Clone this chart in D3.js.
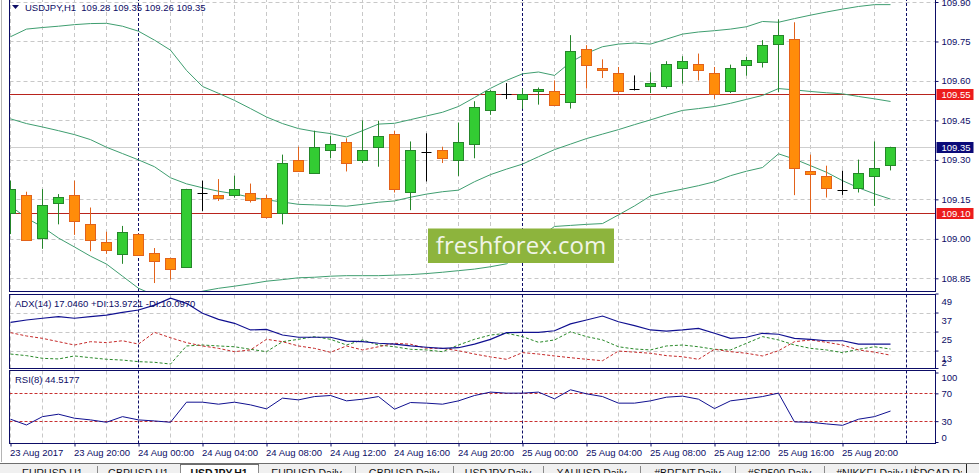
<!DOCTYPE html>
<html lang="en">
<head>
<meta charset="UTF-8">
<title>USDJPY,H1</title>
<script src="https://d3js.org/d3.v7.min.js"></script>
<style>
  body { margin: 0; background: #fff; }
  svg { display: block; font-family: "Liberation Sans", Arial, sans-serif; }
</style>
</head>
<body>
<script>
// --- data (USDJPY H1, from 23 Aug 2017 16:00) ---
var symbol = 'USDJPY,H1';
var startTime = new Date(Date.UTC(2017, 7, 23, 16));

var opens = [109.097,109.167,109.004,109.135,109.167,109.055,108.987,108.943,109.017,108.945,
  108.926,108.894,109.176,109.167,109.166,109.176,109.157,109.097,109.301,109.250,
  109.338,109.368,109.300,109.349,109.399,109.178,109.331,109.338,109.300,109.361,
  109.490,109.551,109.532,109.563,109.563,109.521,109.723,109.651,109.632,109.571,
  109.582,109.582,109.651,109.663,109.632,109.563,109.662,109.672,109.742,109.761,
  109.258,109.239,109.187,109.195,109.239,109.28];
var highs = [109.221,109.179,109.189,109.170,109.221,109.119,109.027,109.049,109.020,108.965,
  108.928,109.190,109.221,109.227,109.240,109.210,109.167,109.320,109.350,109.411,
  109.392,109.382,109.450,109.449,109.411,109.370,109.401,109.350,109.442,109.523,
  109.565,109.592,109.571,109.575,109.602,109.774,109.736,109.682,109.653,109.621,
  109.633,109.675,109.694,109.704,109.653,109.662,109.691,109.755,109.834,109.823,
  109.320,109.278,109.259,109.301,109.370,109.35];
var lows = [109.018,108.994,108.962,109.055,109.015,108.953,108.943,108.905,108.935,108.832,
  108.845,108.892,109.106,109.144,109.157,109.138,109.077,109.055,109.258,109.250,
  109.306,109.256,109.288,109.274,109.176,109.109,109.218,109.288,109.239,109.306,
  109.471,109.531,109.494,109.510,109.510,109.495,109.571,109.611,109.551,109.564,
  109.554,109.571,109.590,109.602,109.532,109.554,109.620,109.651,109.558,109.166,
  109.100,109.157,109.167,109.176,109.125,109.26];
var closes = [109.189,108.994,109.129,109.160,109.067,108.994,108.956,109.025,108.937,108.914,
  108.885,109.189,109.176,109.157,109.189,109.147,109.084,109.287,109.258,109.349,
  109.361,109.287,109.338,109.391,109.189,109.338,109.331,109.306,109.368,109.502,
  109.563,109.551,109.551,109.571,109.510,109.712,109.662,109.643,109.563,109.571,
  109.591,109.663,109.674,109.643,109.551,109.651,109.681,109.735,109.773,109.269,
  109.248,109.195,109.187,109.250,109.270,109.35];

var bbUpper = [109.768,109.797,109.803,109.808,109.814,109.818,109.819,109.808,109.789,109.755,
  109.717,109.640,109.579,109.553,109.526,109.495,109.463,109.438,109.419,109.408,
  109.400,109.387,109.411,109.436,109.439,109.453,109.467,109.481,109.503,109.537,
  109.572,109.602,109.627,109.634,109.621,109.671,109.705,109.730,109.740,109.744,
  109.740,109.759,109.778,109.786,109.791,109.797,109.806,109.826,109.823,109.837,
  109.850,109.862,109.873,109.883,109.890,109.890];
var bbMiddle = [109.456,109.438,109.425,109.411,109.396,109.377,109.348,109.324,109.300,109.274,
  109.232,109.209,109.194,109.181,109.171,109.158,109.148,109.140,109.131,109.129,
  109.127,109.124,109.131,109.139,109.144,109.158,109.170,109.179,109.185,109.217,
  109.244,109.265,109.284,109.312,109.339,109.360,109.381,109.398,109.415,109.434,
  109.452,109.471,109.488,109.495,109.503,109.515,109.530,109.545,109.571,109.566,
  109.560,109.555,109.551,109.541,109.532,109.522];
var bbLower = [109.125,109.079,109.045,109.003,108.969,108.934,108.904,108.858,108.812,108.786,
  108.770,108.786,108.801,108.812,108.820,108.829,108.839,108.845,108.852,108.854,
  108.858,108.860,108.860,108.860,108.862,108.864,108.868,108.873,108.879,108.885,
  108.894,108.905,108.953,109.003,109.047,109.051,109.055,109.058,109.091,109.125,
  109.163,109.177,109.189,109.202,109.217,109.240,109.257,109.271,109.323,109.303,
  109.278,109.253,109.221,109.194,109.171,109.151];

var adxMain = [30.8,32.3,33.4,34.4,33.4,34.4,35.4,37.1,38.6,41.7,
  46.0,42.8,36.5,32.7,30.2,26.0,26.4,22.8,21.4,21.4,
  21.4,19.0,18.6,17.6,17.0,15.9,15.1,14.4,14.8,17.1,
  20.1,24.3,24.5,24.5,25.5,29.8,32.3,34.8,31.2,28.7,
  26.0,25.3,26.0,27.0,23.9,20.7,21.4,23.9,23.3,20.7,
  20.1,19.2,19.2,17.1,17.1,17.0460];
var plusDI = [10.8,9.8,8.1,7.7,9.6,8.5,7.5,7.0,6.0,5.6,
  4.5,15.9,16.5,15.9,15.4,13.8,12.3,18.6,20.1,21.8,
  20.1,16.5,19.7,16.5,15.4,13.8,13.4,12.3,16.5,20.1,
  22.8,23.9,21.8,18.2,19.7,24.9,21.8,19.7,15.4,14.0,
  13.4,15.9,16.5,15.4,13.8,13.4,17.6,21.8,19.7,16.5,
  14.4,13.4,11.7,13.8,15.4,13.9721];
var minusDI = [24.3,22.2,20.7,18.6,16.5,18.6,18.0,19.2,17.1,24.5,
  21.1,18.0,15.9,14.4,12.3,13.4,20.1,18.6,15.9,14.4,
  11.9,15.9,13.4,15.4,17.6,17.0,14.4,14.4,12.9,10.8,
  9.0,7.5,11.7,10.8,9.6,8.5,7.5,6.6,12.7,12.0,
  11.3,9.8,9.1,7.5,13.8,12.3,11.3,9.6,12.9,18.6,
  19.7,18.2,16.5,13.4,12.0,10.0970];
var rsi = [32.8,24.5,36.5,40.0,34.2,31.8,28.4,36.5,31.8,30.3,
  28.4,57.3,57.3,54.4,57.3,53.4,47.7,63.1,60.6,65.4,
  66.9,59.2,61.6,65.4,47.2,56.8,55.9,54.4,59.2,66.9,
  71.8,70.3,70.3,71.8,62.1,75.1,69.3,65.4,55.9,55.9,
  59.2,64.5,66.0,61.6,48.1,59.2,62.1,65.4,70.3,28.9,
  28.4,26.0,24.0,32.8,36.5,44.5177];

var priceTicks = [108.85, 109.00, 109.15, 109.30, 109.45, 109.60, 109.75, 109.90];
var levelLines = [109.55, 109.10];
var bidPrice = 109.35;
var adxTicks = [49, 37, 25, 13, 2];
var rsiTicks = [100, 70, 30, 0];
var rsiLevels = [70, 30];
var timeLabels = ['23 Aug 2017', '23 Aug 20:00', '24 Aug 00:00', '24 Aug 04:00', '24 Aug 08:00',
  '24 Aug 12:00', '24 Aug 16:00', '24 Aug 20:00', '25 Aug 00:00', '25 Aug 04:00',
  '25 Aug 08:00', '25 Aug 12:00', '25 Aug 16:00', '25 Aug 20:00'];
var tabNames = ['EURUSD,H1', 'GBPUSD,H1', 'USDJPY,H1', 'EURUSD,Daily', 'GBPUSD,Daily', 'USDJPY,Daily',
  'XAUUSD,Daily', '#BRENT,Daily', '#SP500,Daily', '#NIKKEI,Daily', 'USDCAD,Daily'];
var activeTab = 2;

// --- layout ---
var W = 979, H = 473;
var left = 9.5, right = 935.5;
var mainBox = {top: -2, bottom: 291.5};
var adxBox = {top: 294.5, bottom: 368.5};
var rsiBox = {top: 370.5, bottom: 443.5};
var navy = '#0d0d66';
var tabEdges = [8, 96.5, 180, 258, 355, 453, 543, 640, 735, 824, 915, 966];

var svg = d3.select('body').append('svg')
  .attr('width', W)
  .attr('height', H);

var times = opens.map(function(d, i) { return d3.utcHour.offset(startTime, i); });

var x = d3.scaleUtc()
  .domain([startTime, d3.utcHour.offset(startTime, 56)])
  .range([10.5, 906.5]);
var y = d3.scaleLinear().domain([108.85, 109.90]).range([278.3, 2]);
var yAdx = d3.scaleLinear().domain([2, 49]).range([368, 293.5]);
var yRsi = d3.scaleLinear().domain([0, 100]).range([442, 372.5]);

// left window edge
svg.append('line').attr('x1', 1.5).attr('x2', 1.5).attr('y1', 0).attr('y2', 462)
  .attr('stroke', '#b4b4b4');

// clip paths for the three panels and the tab bar
var defs = svg.append('defs');
[['clipMain', mainBox], ['clipAdx', adxBox], ['clipRsi', rsiBox]].forEach(function(c) {
  defs.append('clipPath').attr('id', c[0]).append('rect')
    .attr('x', left + 0.5).attr('y', c[1].top + 0.5)
    .attr('width', right - left - 1).attr('height', c[1].bottom - c[1].top - 1);
});
defs.append('clipPath').attr('id', 'clipTabs').append('rect')
  .attr('x', 0).attr('y', 460).attr('width', 962).attr('height', 20);

var gridTimes = x.ticks(d3.utcHour.every(2)).filter(function(t) { return t.getUTCHours() !== 0; });
var dayTimes = d3.utcDays(d3.utcHour.offset(startTime, 1), d3.utcHour.offset(startTime, 57));

function panelGrid(g, box, hValues, yScale) {
  g.selectAll('.vgrid')
    .data(gridTimes)
    .enter().append('line')
      .attr('x1', function(d) { return Math.round(x(d)) - 0.5; })
      .attr('x2', function(d) { return Math.round(x(d)) - 0.5; })
      .attr('y1', box.top).attr('y2', box.bottom)
      .attr('stroke', '#c8c8c8')
      .attr('stroke-dasharray', '4,3');
  g.selectAll('.hgrid')
    .data(hValues)
    .enter().append('line')
      .attr('x1', left).attr('x2', right)
      .attr('y1', function(d) { return Math.round(yScale(d)) + 0.5; })
      .attr('y2', function(d) { return Math.round(yScale(d)) + 0.5; })
      .attr('stroke', '#c8c8c8')
      .attr('stroke-dasharray', '4,3');
}

function separators(g, box) {
  g.selectAll('.sep')
    .data(dayTimes)
    .enter().append('line')
      .attr('x1', function(d) { return Math.round(x(d)) - 0.5; })
      .attr('x2', function(d) { return Math.round(x(d)) - 0.5; })
      .attr('y1', box.top).attr('y2', box.bottom)
      .attr('stroke', navy)
      .attr('stroke-dasharray', '3,2');
}

// ================= main panel =================
var gMain = svg.append('g').attr('clip-path', 'url(#clipMain)');
panelGrid(gMain, mainBox, priceTicks, y);

gMain.append('line')
  .attr('x1', left).attr('x2', right)
  .attr('y1', Math.round(y(bidPrice)) + 0.5).attr('y2', Math.round(y(bidPrice)) + 0.5)
  .attr('stroke', '#cfcfcf');

separators(gMain, mainBox);

gMain.selectAll('.level')
  .data(levelLines)
  .enter().append('line')
    .attr('x1', left).attr('x2', right)
    .attr('y1', function(d) { return Math.round(y(d)) + 0.5; })
    .attr('y2', function(d) { return Math.round(y(d)) + 0.5; })
    .attr('stroke', '#b8231d');

// Bollinger bands
[bbUpper, bbMiddle, bbLower].forEach(function(band) {
  gMain.append('path')
    .datum(band)
    .attr('fill', 'none')
    .attr('stroke', '#3f9e70')
    .attr('d', d3.line()
      .x(function(d, i) { return x(times[i]); })
      .y(function(d) { return y(d); }));
});

// logo
var logo = svg.append('g');
logo.append('rect')
  .attr('x', 428).attr('y', 228.5).attr('width', 186).attr('height', 34.5)
  .attr('fill', '#8db43d');
logo.append('text')
  .attr('x', 521).attr('y', 253.5)
  .attr('text-anchor', 'middle')
  .style('font-family', '"Open Sans", "Noto Sans", sans-serif')
  .style('font-size', '24px')
  .attr('fill', '#f1f5e8')
  .text('freshforex.com');

// candles
var candles = svg.append('g')
  .attr('clip-path', 'url(#clipMain)')
  .selectAll('g')
  .data(opens.map(function(o, i) {
    return {t: times[i], o: o, h: highs[i], l: lows[i], c: closes[i]};
  }))
  .enter().append('g');

candles.each(function(d) {
  var g = d3.select(this);
  var cx = x(d.t);
  if (d.o === d.c) {
    g.append('line').attr('x1', cx).attr('x2', cx)
      .attr('y1', y(d.h)).attr('y2', y(d.l)).attr('stroke', '#000');
    g.append('line').attr('x1', cx - 5).attr('x2', cx + 5)
      .attr('y1', Math.round(y(d.c)) + 0.5).attr('y2', Math.round(y(d.c)) + 0.5)
      .attr('stroke', '#000');
    return;
  }
  var up = d.c > d.o;
  var edge = up ? '#25862a' : '#e2621a';
  g.append('line').attr('x1', cx).attr('x2', cx)
    .attr('y1', y(d.h)).attr('y2', y(d.l)).attr('stroke', edge);
  var top = Math.round(y(Math.max(d.o, d.c))) + 0.5;
  var bot = Math.round(y(Math.min(d.o, d.c))) + 0.5;
  g.append('rect')
    .attr('x', cx - 5).attr('width', 10)
    .attr('y', top).attr('height', Math.max(1, bot - top))
    .attr('fill', up ? '#33cc33' : '#ff8c0a')
    .attr('stroke', edge);
});

// header
svg.append('path').attr('d', 'M12,5 L19,5 L15.5,9 Z').attr('fill', navy);
svg.append('text')
  .attr('x', 25).attr('y', 11)
  .style('font-size', '9.5px')
  .style('white-space', 'pre')
  .attr('fill', navy)
  .text(symbol + '  ' + [opens[55], highs[55], lows[55], closes[55]].map(function(v) {
    return v.toFixed(2);
  }).join(' '));

// ================= ADX panel =================
var gAdx = svg.append('g').attr('clip-path', 'url(#clipAdx)');
panelGrid(gAdx, adxBox, [37, 25, 13], yAdx);
separators(gAdx, adxBox);

var adxLine = d3.line()
  .x(function(d, i) { return x(times[i]); })
  .y(function(d) { return yAdx(d); });
gAdx.append('path').datum(plusDI).attr('fill', 'none')
  .attr('stroke', '#2a8a2a').attr('stroke-dasharray', '3,2').attr('d', adxLine);
gAdx.append('path').datum(minusDI).attr('fill', 'none')
  .attr('stroke', '#c62a2a').attr('stroke-dasharray', '3,2').attr('d', adxLine);
gAdx.append('path').datum(adxMain).attr('fill', 'none')
  .attr('stroke', '#101090').attr('stroke-width', 1.2).attr('d', adxLine);

svg.append('text')
  .attr('x', 15).attr('y', 307)
  .style('font-size', '9.5px')
  .attr('fill', navy)
  .text('ADX(14) ' + adxMain[55].toFixed(4) + ' +DI:' + plusDI[55].toFixed(4) +
        ' -DI:' + minusDI[55].toFixed(4));

// ================= RSI panel =================
var gRsi = svg.append('g').attr('clip-path', 'url(#clipRsi)');
panelGrid(gRsi, rsiBox, [], yRsi);
separators(gRsi, rsiBox);

gRsi.selectAll('.rlevel')
  .data(rsiLevels)
  .enter().append('line')
    .attr('x1', left).attr('x2', right)
    .attr('y1', function(d) { return Math.round(yRsi(d)) + 0.5; })
    .attr('y2', function(d) { return Math.round(yRsi(d)) + 0.5; })
    .attr('stroke', '#c83030')
    .attr('stroke-dasharray', '3,2');

gRsi.append('path').datum(rsi).attr('fill', 'none')
  .attr('stroke', '#101090')
  .attr('d', d3.line()
    .x(function(d, i) { return x(times[i]); })
    .y(function(d) { return yRsi(d); }));

svg.append('text')
  .attr('x', 15).attr('y', 382.5)
  .style('font-size', '9.5px')
  .attr('fill', navy)
  .text('RSI(8) ' + rsi[55].toFixed(4));

// ================= frames =================
[mainBox, adxBox, rsiBox].forEach(function(b) {
  svg.append('rect')
    .attr('x', left).attr('y', b.top)
    .attr('width', right - left).attr('height', b.bottom - b.top)
    .attr('fill', 'none').attr('stroke', navy);
});

// ================= axes =================
function styleAxis(g) {
  g.select('.domain').remove();
  g.selectAll('line').attr('stroke', navy);
  g.selectAll('text').attr('fill', navy).style('font-size', '9.5px');
}

svg.append('g')
  .attr('transform', 'translate(' + right + ',0)')
  .call(d3.axisRight(y).tickValues(priceTicks).tickSize(3).tickPadding(3)
    .tickFormat(d3.format('.2f')))
  .call(styleAxis);

var adxAxis = svg.append('g')
  .attr('transform', 'translate(' + right + ',0)')
  .call(d3.axisRight(yAdx).tickValues(adxTicks).tickSize(3).tickPadding(3))
  .call(styleAxis);
adxAxis.selectAll('text').attr('dy', function(d) { return d === 2 ? '-0.3em' : '1.2em'; });

var rsiAxis = svg.append('g')
  .attr('transform', 'translate(' + right + ',0)')
  .call(d3.axisRight(yRsi).tickValues(rsiTicks).tickSize(3).tickPadding(3))
  .call(styleAxis);
rsiAxis.selectAll('text').attr('dy', function(d) {
  return d === 100 ? '0.85em' : (d === 0 ? '-0.2em' : '0.32em');
});

// price tags on the axis
var tags = levelLines.map(function(v) { return {v: v, bg: '#ec1c1c'}; })
  .concat([{v: bidPrice, bg: '#0a0a78'}]);
var tag = svg.selectAll('.tag').data(tags).enter().append('g');
tag.append('rect')
  .attr('x', right + 1).attr('width', 37)
  .attr('y', function(d) { return Math.round(y(d.v)) - 5; })
  .attr('height', 11)
  .attr('fill', function(d) { return d.bg; });
tag.append('text')
  .attr('x', right + 6).attr('y', function(d) { return Math.round(y(d.v)) + 0.5; })
  .attr('dy', '0.34em')
  .style('font-size', '9.5px')
  .attr('fill', '#fff')
  .text(function(d) { return d.v.toFixed(2); });

// time axis
var labelTimes = d3.utcHour.every(4).range(startTime, d3.utcHour.offset(startTime, 53));
var timeAxis = svg.append('g')
  .attr('transform', 'translate(0,' + rsiBox.bottom + ')')
  .call(d3.axisBottom(x).tickValues(labelTimes).tickSize(3).tickPadding(3)
    .tickFormat(function(d, i) { return timeLabels[i]; }))
  .call(styleAxis);
timeAxis.selectAll('text').attr('text-anchor', 'start').attr('dx', -1);

// ================= tab bar =================
var tabBar = svg.append('g');
tabBar.append('rect').attr('x', 0).attr('y', 463).attr('width', W).attr('height', 10)
  .attr('fill', '#f0f0f0');
tabBar.append('line').attr('x1', 0).attr('x2', W).attr('y1', 463.5).attr('y2', 463.5)
  .attr('stroke', '#6e6e6e');
tabBar.append('rect')
  .attr('x', tabEdges[activeTab] + 0.5).attr('y', 464.5)
  .attr('width', tabEdges[activeTab + 1] - tabEdges[activeTab]).attr('height', 10)
  .attr('fill', '#fff').attr('stroke', '#6e6e6e');
tabBar.selectAll('.sepTab')
  .data(tabEdges.slice(1))
  .enter().append('line')
    .attr('x1', function(d) { return Math.round(d) + 0.5; })
    .attr('x2', function(d) { return Math.round(d) + 0.5; })
    .attr('y1', function(d, i) { return i === tabEdges.length - 2 ? 464 : 466; })
    .attr('y2', 473)
    .attr('stroke', function(d, i) { return i === tabEdges.length - 2 ? '#222' : '#8a8a8a'; });
tabBar.append('g')
  .attr('clip-path', 'url(#clipTabs)')
  .selectAll('.tabText')
  .data(tabNames)
  .enter().append('text')
    .attr('x', function(d, i) {
      return i < tabEdges.length - 1 ? (tabEdges[i] + tabEdges[i + 1]) / 2 : 925;
    })
    .attr('text-anchor', function(d, i) { return i < tabEdges.length - 1 ? 'middle' : 'start'; })
    .attr('y', 477)
    .style('font-size', '10.5px')
    .style('font-weight', function(d, i) { return i === activeTab ? 'bold' : 'normal'; })
    .attr('fill', '#111')
    .text(function(d) { return d; });
</script>
</body>
</html>
